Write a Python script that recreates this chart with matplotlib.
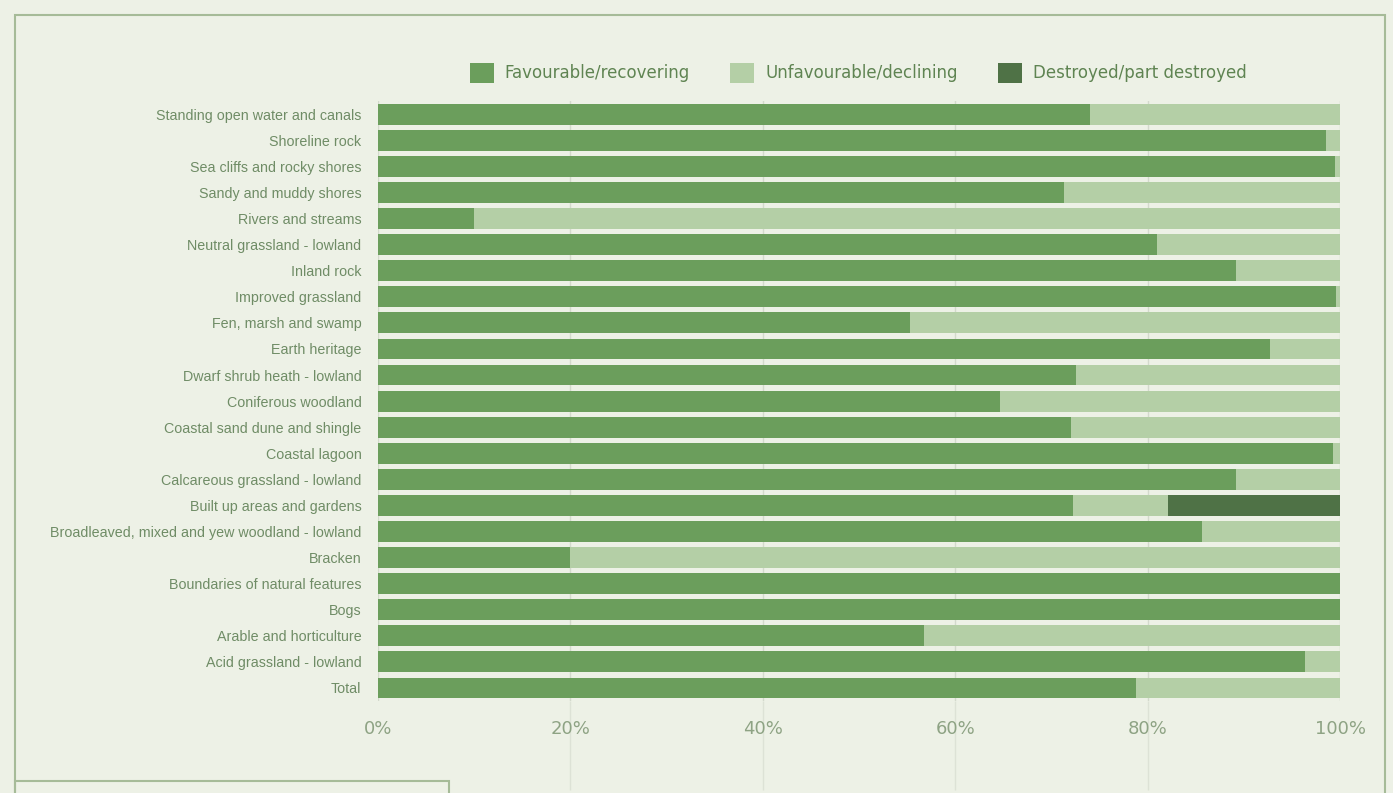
import matplotlib.pyplot as plt
from matplotlib.patches import Rectangle
import numpy as np

habitats = [
    "Standing open water and canals", "Shoreline rock", "Sea cliffs and rocky shores",
    "Sandy and muddy shores", "Rivers and streams", "Neutral grassland - lowland",
    "Inland rock", "Improved grassland", "Fen, marsh and swamp", "Earth heritage",
    "Dwarf shrub heath - lowland", "Coniferous woodland", "Coastal sand dune and shingle",
    "Coastal lagoon", "Calcareous grassland - lowland", "Built up areas and gardens",
    "Broadleaved, mixed and yew woodland - lowland", "Bracken",
    "Boundaries of natural features", "Bogs", "Arable and horticulture",
    "Acid grassland - lowland", "Total",
]
favourable = [74, 98.5, 99.5, 71.3, 10, 81, 89.2, 99.6, 55.3, 92.7, 72.5, 64.7, 72,
              99.3, 89.2, 72.2, 85.6, 20, 100, 100, 56.7, 96.4, 78.8]
destroyed = [0, 0, 0, 0, 0, 0, 0, 0, 0, 0, 0, 0, 0, 0, 0, 17.9, 0, 0, 0, 0, 0, 0, 0]
unfavourable = [100 - f - d for f, d in zip(favourable, destroyed)]
ticks = [0, 20, 40, 60, 80, 100]

bg = "#edf1e6"
c_fav = "#6b9e5c"
c_unf = "#b4cfa6"
c_des = "#4f7246"
txt = "#6f8c66"

plt.rcParams['font.family'] = ['Liberation Sans', 'DejaVu Sans']

fig = plt.figure(figsize=(13.93, 7.93), dpi=100, facecolor=bg)
ax = fig.add_axes([0.2714, 0.116, 0.6906, 0.7564])
ax.set_facecolor(bg)

y = np.arange(len(habitats))
h = 0.8
left_unf = np.array(favourable)
left_des = left_unf + np.array(unfavourable)
ax.barh(y, favourable, height=h, color=c_fav, label="Favourable/recovering", zorder=2)
ax.barh(y, unfavourable, left=left_unf, height=h, color=c_unf,
        label="Unfavourable/declining", zorder=2)
ax.barh(y, destroyed, left=left_des, height=h, color=c_des,
        label="Destroyed/part destroyed", zorder=2)

ax.set_xlim(0, 100)
ax.set_ylim(len(habitats) - 0.5, -0.5)
ax.set_yticks(y)
ax.set_yticklabels(habitats, fontsize=10.3, color=txt)
ax.set_xticks(ticks)
ax.set_xticklabels([f"{t}%" for t in ticks], fontsize=13, color="#8ea384",
                   family=['DejaVu Sans'])
ax.tick_params(axis='y', length=0, pad=12)
ax.tick_params(axis='x', length=0, pad=14)
ax.grid(axis='x', color="#d3d9cc", lw=1, zorder=0)
# faint gridline extension below the plot area
ax.vlines(ticks[1:-1], len(habitats) - 0.5, len(habitats) + 2.9, color="#dde2d6",
          lw=1, clip_on=False, zorder=0)
for s in ax.spines.values():
    s.set_visible(False)

leg = fig.legend(loc='center', bbox_to_anchor=(0.616, 0.908), ncol=3, frameon=False,
                 handlelength=1.45, handleheight=1.45, columnspacing=2.4,
                 handletextpad=0.66, prop={'family': ['DejaVu Sans'], 'size': 12})
for t in leg.get_texts():
    t.set_color("#5f8452")

# outer frame and caption box
fig.add_artist(Rectangle((15 / 1393, -0.01), 1370 / 1393, 1 - 15 / 793 + 0.01,
                         transform=fig.transFigure, fill=False, ec="#a6bb98", lw=1.5))
fig.add_artist(Rectangle((15 / 1393, -0.01), 434 / 1393, 0.01 + 12 / 793,
                         transform=fig.transFigure, fill=False, ec="#a6bb98", lw=1.5))

fig.savefig("out.png", dpi=100, facecolor=bg)
